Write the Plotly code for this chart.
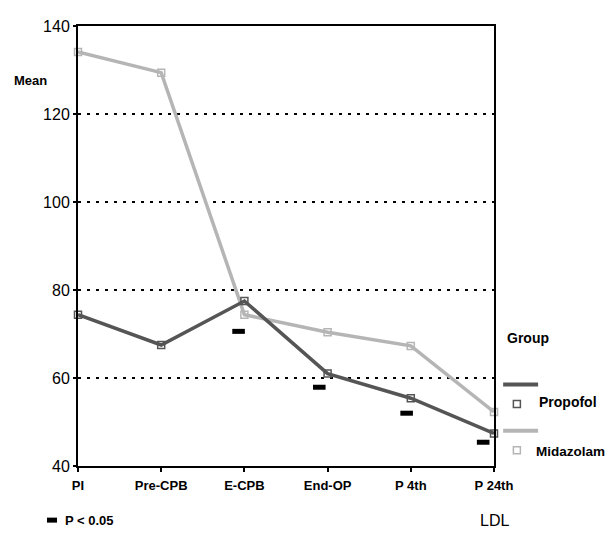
import plotly.graph_objects as go

categories = ["PI", "Pre-CPB", "E-CPB", "End-OP", "P 4th", "P 24th"]
propofol = [74.4, 67.5, 77.5, 61.0, 55.4, 47.4]
midazolam = [134.1, 129.4, 74.4, 70.4, 67.3, 52.3]
sig_x = [1.93, 2.90, 3.95, 4.87]
sig_y = [70.6, 57.9, 52.0, 45.4]
y_ticks = [40, 60, 80, 100, 120, 140]

DARK = "#555555"
LIGHT = "#b5b5b5"
FONT = "Liberation Sans"

xs = list(range(len(categories)))

fig = go.Figure()
fig.add_trace(go.Scatter(x=xs, y=midazolam, mode="lines+markers", cliponaxis=False,
                         line=dict(color=LIGHT, width=3.5),
                         marker=dict(symbol="square-open", size=7, color=LIGHT, line=dict(width=1.5)),
                         name="Midazolam", showlegend=False))
fig.add_trace(go.Scatter(x=xs, y=propofol, mode="lines+markers", cliponaxis=False,
                         line=dict(color=DARK, width=3.5),
                         marker=dict(symbol="square-open", size=7, color=DARK, line=dict(width=1.5)),
                         name="Propofol", showlegend=False))
fig.add_trace(go.Scatter(x=sig_x, y=sig_y, mode="markers", cliponaxis=False,
                         marker=dict(symbol="line-ew", size=9, color="black",
                                     line=dict(color="black", width=5)),
                         showlegend=False))

bold = dict(family=FONT, size=14, color="black", weight="bold")

ann = [
    dict(text="Mean", x=-0.115, y=0.877, xanchor="center", font=dict(family=FONT, size=13, color="black", weight="bold")),
    dict(text="Group", x=1.026, y=0.292, xanchor="left", font=bold),
    dict(text="Propofol", x=1.103, y=0.145, xanchor="left", font=bold),
    dict(text="Midazolam", x=1.097, y=0.033, xanchor="left", font=dict(family=FONT, size=13.5, color="black", weight="bold")),
    dict(text="P < 0.05", x=-0.036, y=-0.123, xanchor="left", font=dict(family=FONT, size=13, color="black", weight="bold")),
    dict(text="LDL", x=1.002, y=-0.123, xanchor="center", font=dict(family=FONT, size=16, color="black")),
]
for a in ann:
    a.update(xref="paper", yref="paper", showarrow=False, yanchor="middle")
    fig.add_annotation(**a)

shapes = [
    dict(type="line", x0=1.022, x1=1.106, y0=0.185, y1=0.185, line=dict(color=DARK, width=4)),
    dict(type="line", x0=1.022, x1=1.106, y0=0.080, y1=0.080, line=dict(color=LIGHT, width=4)),
    dict(type="rect", xsizemode="pixel", ysizemode="pixel", xanchor=1.055, yanchor=0.141,
         x0=-3.5, x1=3.5, y0=-3.5, y1=3.5, line=dict(color=DARK, width=1.5)),
    dict(type="rect", xsizemode="pixel", ysizemode="pixel", xanchor=1.055, yanchor=0.036,
         x0=-3.5, x1=3.5, y0=-3.5, y1=3.5, line=dict(color=LIGHT, width=1.5)),
    dict(type="rect", xsizemode="pixel", ysizemode="pixel", xanchor=-0.0625, yanchor=-0.123,
         x0=-5, x1=5, y0=-2.5, y1=2.5, line=dict(width=0), fillcolor="black"),
]
for s in shapes:
    s.update(xref="paper", yref="paper")
    fig.add_shape(**s)

fig.update_layout(
    width=606, height=525,
    margin=dict(l=70, r=120, t=10, b=67),
    paper_bgcolor="white", plot_bgcolor="white",
    font=dict(family=FONT, color="black"),
    xaxis=dict(range=[0, 5], tickvals=xs, ticktext=categories, showgrid=False, zeroline=False,
               showline=True, linecolor="black", linewidth=2, mirror=True,
               ticks="outside", ticklen=4, tickwidth=2, tickcolor="black",
               tickfont=dict(family=FONT, size=13, color="black", weight="bold"),
               ticklabelstandoff=2),
    yaxis=dict(range=[40, 140], tickvals=y_ticks, showgrid=True, gridcolor="black", gridwidth=2,
               griddash="3px,6px", zeroline=False,
               showline=True, linecolor="black", linewidth=2, mirror=True,
               ticks="outside", ticklen=3, tickwidth=2, tickcolor="black",
               tickfont=dict(family=FONT, size=16, color="black")),
)

fig.write_html("out.html")
